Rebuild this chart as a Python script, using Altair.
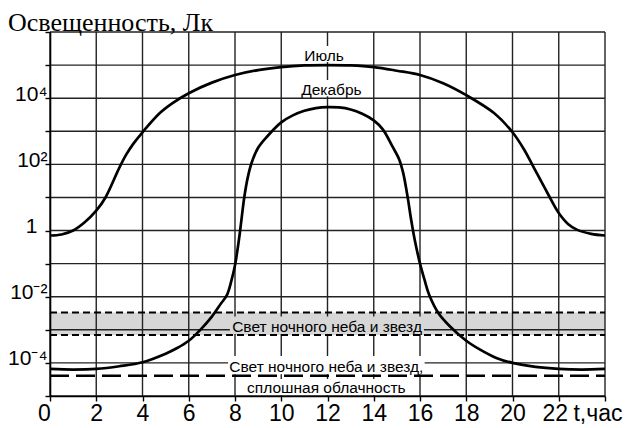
import altair as alt
import pandas as pd

# ---- data (illuminance as log10 of lux) ----
hours_jul = [0, 0.5, 1, 1.5, 2, 2.4, 3.0, 3.3, 3.6, 4.0, 4.75, 5.3, 6, 7, 8, 9, 10, 11, 12,
             13, 14, 15, 16, 17, 18, 19.2, 20, 20.5, 20.9, 21.5, 22, 22.4, 22.8, 23.4, 24]
log_jul = [-0.15, -0.12, 0.0, 0.25, 0.6, 1.0, 1.9, 2.3, 2.62, 2.97, 3.55, 3.85, 4.15, 4.47, 4.7,
           4.85, 4.94, 4.99, 5.0, 4.99, 4.94, 4.83, 4.7, 4.45, 4.09, 3.55, 2.97, 2.45, 1.93, 1.15,
           0.53, 0.2, 0.02, -0.1, -0.15]

hours_dec = [0, 1, 2, 3, 4, 5, 5.5, 6, 6.5, 7, 7.4, 7.65, 7.85, 8.0, 8.1, 8.2, 8.3, 8.4, 8.55,
             8.72, 9.0, 9.4, 10, 10.5, 11, 11.5, 12, 12.5, 13, 13.5, 14, 14.4, 14.8, 15.1, 15.27,
             15.48, 15.6, 15.75, 15.9, 16.0, 16.2, 16.4, 16.8, 17.3, 18, 18.6, 19.3, 20, 21, 22, 23, 24]
log_dec = [-4.18, -4.2, -4.18, -4.1, -3.98, -3.72, -3.55, -3.33, -3.0, -2.6, -2.2, -1.95, -1.5,
           -1.05, -0.62, -0.12, 0.45, 1.0, 1.6, 2.05, 2.5, 2.85, 3.27, 3.48, 3.62, 3.7, 3.73, 3.72,
           3.66, 3.53, 3.33, 3.05, 2.55, 2.15, 1.75, 0.95, 0.4, -0.2, -0.7, -1.0, -1.5, -1.95, -2.5,
           -2.9, -3.33, -3.6, -3.85, -4.0, -4.12, -4.18, -4.2, -4.18]

x_ticks = list(range(0, 25, 2))
decades = list(range(-5, 7))
night_band = [-2.48, -3.16]       # clear night sky and stars (band edges)
overcast_level = -4.39            # night sky, full overcast

label_texts = ["Июль", "Декабрь", "Свет ночного неба и звезд",
               "Свет ночного неба и звезд,", "сплошная облачность"]
label_t = [11.85, 12.17, 11.98, 11.95, 11.95]
label_log = [5.12, 4.09, -3.06, -4.27, -4.91]
bg_t1 = [10.94, 10.72, 7.78, 7.7, 8.48]
bg_t2 = [12.76, 13.62, 16.17, 16.2, 15.44]
bg_top = [5.58, 4.55, -2.60, -3.79, -4.49]
bg_bot = [5.09, 4.06, -3.13, -4.34, -4.97]
bg_kind = ["w", "w", "g", "w", "w"]

title_text = "Освещенность, Лк"

# ---- tables ----
curves = pd.DataFrame({
    "t": hours_jul + hours_dec,
    "lx": [10 ** v for v in log_jul + log_dec],
    "month": ["Июль"] * len(hours_jul) + ["Декабрь"] * len(hours_dec),
})
vgrid = pd.DataFrame({"t": x_ticks, "top": [1e6] * len(x_ticks), "bot": [1e-5] * len(x_ticks)})
hgrid = pd.DataFrame({"lx": [10.0 ** d for d in decades],
                      "t0": [0] * len(decades), "t1": [24] * len(decades)})
band = pd.DataFrame({"a": [10 ** night_band[0]], "b": [10 ** night_band[1]], "t0": [0], "t1": [24]})
band_lines = pd.DataFrame({"lx": [10 ** v for v in night_band], "t0": [0, 0], "t1": [24, 24]})
overcast = pd.DataFrame({"lx": [10 ** overcast_level], "t0": [0], "t1": [24]})
labels = pd.DataFrame({"txt": label_texts, "t": label_t, "lx": [10 ** v for v in label_log]})
bgs = pd.DataFrame({"t1": bg_t1, "t2": bg_t2,
                    "y1": [10 ** v for v in bg_top], "y2": [10 ** v for v in bg_bot],
                    "kind": bg_kind})
title_df = pd.DataFrame({"txt": [title_text]})

XS = alt.Scale(domain=[0, 24], nice=False, zero=False)
YS = alt.Scale(type="log", domain=[1e-5, 1e6], nice=False)

label_expr_y = ("datum.value == 10000 ? '10⁴' : datum.value == 100 ? '10²' : "
                "datum.value == 1 ? '1' : datum.value == 0.01 ? '10⁻²' : "
                "datum.value == 0.0001 ? '10⁻⁴' : ''")

x_axis = alt.Axis(values=x_ticks, title=None, grid=False, tickSize=5, tickColor="black",
                  tickWidth=1.4, domainColor="black", domainWidth=1.6,
                  labelFont="Liberation Sans", labelFontSize=23, labelColor="black",
                  labelPadding=1, labelFlush=False, labelOverlap=False, zindex=1,
                  labelAlign={"condition": {"test": "datum.value == 24", "value": "right"},
                              "value": "center"},
                  labelOffset={"condition": [{"test": "datum.value == 0", "value": -6},
                                             {"test": "datum.value == 22", "value": -4},
                                             {"test": "datum.value == 24", "value": 17}],
                               "value": 0},
                  labelExpr="datum.value == 24 ? 't,час' : datum.label")
y_axis = alt.Axis(values=[10.0 ** d for d in decades], title=None, grid=False, tickSize=5,
                  tickColor="black", tickWidth=1.4, domainColor="black", domainWidth=1.6,
                  labelFont="Liberation Sans", labelFontSize=21, labelColor="black",
                  labelBaseline="alphabetic", labelOffset=2, labelOverlap=False,
                  labelPadding={"condition": {"test": "datum.value == 1", "value": 8},
                                "value": -2},
                  labelFlush=False, labelExpr=label_expr_y, zindex=1)


def X(field):
    return alt.X(f"{field}:Q", scale=XS, axis=x_axis)


def Y(field):
    return alt.Y(f"{field}:Q", scale=YS, axis=y_axis)


band_layer = alt.Chart(band).mark_rect(fill="#d7d7d7").encode(
    x=X("t0"), x2="t1:Q", y=Y("a"), y2="b:Q")

vgrid_layer = alt.Chart(vgrid).mark_rule(color="#222", strokeWidth=1.4).encode(
    x=X("t"), y=Y("top"), y2="bot:Q")

hgrid_layer = alt.Chart(hgrid).mark_rule(color="#222", strokeWidth=1.4).encode(
    y=Y("lx"), x=X("t0"), x2="t1:Q")

bg_layer = alt.Chart(bgs).mark_rect().encode(
    x=X("t1"), x2="t2:Q", y=Y("y1"), y2="y2:Q",
    fill=alt.Fill("kind:N", scale=alt.Scale(domain=["w", "g"], range=["white", "#d7d7d7"]),
                  legend=None))

curve_layer = alt.Chart(curves).mark_line(color="black", strokeWidth=2.7,
                                          interpolate="catmull-rom").encode(
    x=X("t"), y=Y("lx"), detail="month:N")

band_line_layer = alt.Chart(band_lines).mark_rule(color="black", strokeWidth=2,
                                                  strokeDash=[7, 4]).encode(
    y=Y("lx"), x=X("t0"), x2="t1:Q")

overcast_layer = alt.Chart(overcast).mark_rule(color="black", strokeWidth=2.6,
                                               strokeDash=[19, 7]).encode(
    y=Y("lx"), x=X("t0"), x2="t1:Q")

text_layer = alt.Chart(labels).mark_text(
    font="Liberation Sans", fontSize=15.5,
    color="black", align="center", baseline="alphabetic").encode(
    x=X("t"), y=Y("lx"), text="txt:N")

title_layer = alt.Chart(title_df).mark_text(
    font="Liberation Serif", fontSize=26, color="black", align="left",
    baseline="alphabetic").encode(
    x=alt.value(-42), y=alt.value(-1), text="txt:N")

chart = alt.layer(
    band_layer, vgrid_layer, hgrid_layer, bg_layer, curve_layer,
    band_line_layer, overcast_layer, text_layer, title_layer
).properties(
    width=555, height=364,
    padding={"left": 42, "top": 24, "right": 18, "bottom": 28},
    autosize="none",
    background="white",
).configure_view(stroke=None)

chart.save("out.html", embed_options={"renderer": "svg", "actions": False})
